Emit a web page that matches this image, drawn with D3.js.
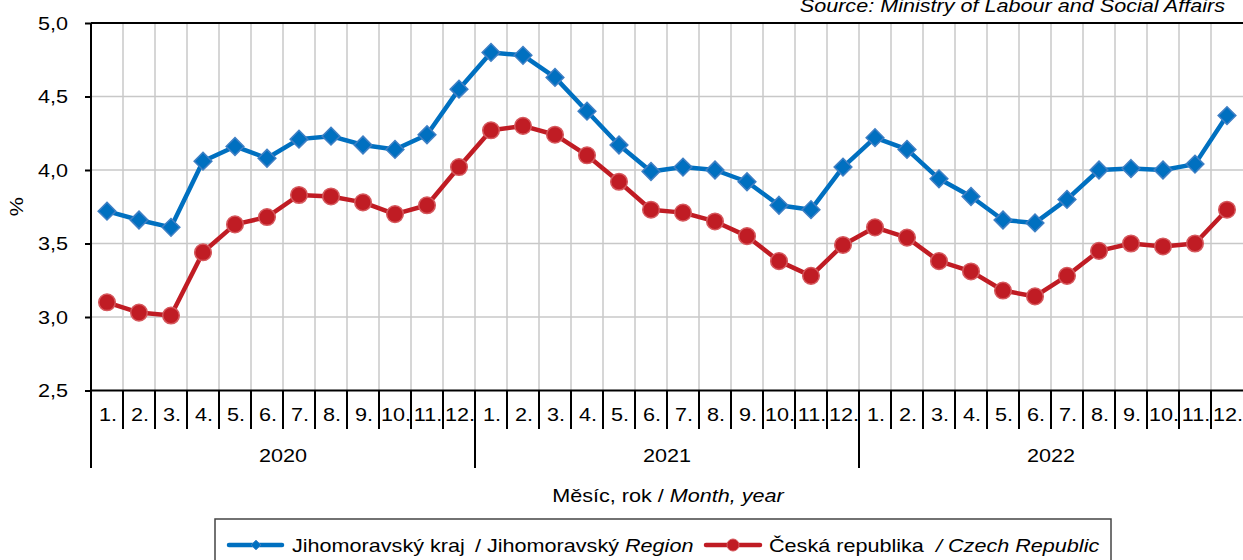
<!DOCTYPE html>
<html>
<head>
<meta charset="utf-8">
<script src="https://cdn.jsdelivr.net/npm/d3@7"></script>
<style>
  body { margin: 0; background: #fff; font-family: "Liberation Sans", Arial, sans-serif; }
  svg text { font-family: "Liberation Sans", Arial, sans-serif; fill: #000; font-size: 18px; }
  .grid line { stroke: #c8c8c8; stroke-width: 1.5; }
</style>
</head>
<body>
<script>
var years = ["2020", "2021", "2022"];
var months = ["1.", "2.", "3.", "4.", "5.", "6.", "7.", "8.", "9.", "10.", "11.", "12."];
var yTicks = [2.5, 3.0, 3.5, 4.0, 4.5, 5.0];

// Jihomoravsky kraj
var jmk = [3.72, 3.66, 3.61, 4.06, 4.16, 4.08, 4.21, 4.23, 4.17, 4.14, 4.24, 4.55,
           4.80, 4.78, 4.63, 4.40, 4.17, 3.99, 4.02, 4.00, 3.92, 3.76, 3.73, 4.02,
           4.22, 4.14, 3.94, 3.82, 3.66, 3.64, 3.80, 4.00, 4.01, 4.00, 4.04, 4.37];
// Ceska republika
var cr = [3.10, 3.03, 3.01, 3.44, 3.63, 3.68, 3.83, 3.82, 3.78, 3.70, 3.76, 4.02,
          4.27, 4.30, 4.24, 4.10, 3.92, 3.73, 3.71, 3.65, 3.55, 3.38, 3.28, 3.49,
          3.61, 3.54, 3.38, 3.31, 3.18, 3.14, 3.28, 3.45, 3.50, 3.48, 3.50, 3.73];

var W = 1243, H = 560;
var margin = {top: 23, left: 91},
    plotW = 1152,
    plotH = 367.5;
var sx = 1.2; // text in the picture is drawn wider than normal

var blue = "#0070c0", blueEdge = "#3f7fc4";
var red = "#c01c24", redEdge = "#d5585d";

var svg = d3.select("body").append("svg").attr("width", W).attr("height", H);

// text helper: parts = [[string, italic?], ...]
function txt(g, px, py, anchor, parts) {
  var t = g.append("text")
    .attr("transform", "translate(" + px + "," + py + ") scale(" + sx + ",1)")
    .attr("text-anchor", anchor);
  parts.forEach(function(p) {
    t.append("tspan").style("font-style", p[1] ? "italic" : "normal").text(p[0]);
  });
  return t;
}

var idx = d3.range(jmk.length);
var x = d3.scaleBand().domain(idx).range([margin.left, margin.left + plotW]).padding(0);
var y = d3.scaleLinear().domain([2.5, 5.0]).range([margin.top + plotH, margin.top]);
var fmt = function(d) { return d3.format(".1f")(d).replace(".", ","); };

// source
txt(svg, 1225, 12, "end", [["Source: Ministry of Labour and Social Affairs", true]]);

// grid
var grid = svg.append("g").attr("class", "grid");
grid.selectAll(".hg").data(yTicks.slice(1, -1)).enter().append("line")
  .attr("x1", margin.left).attr("x2", margin.left + plotW)
  .attr("y1", function(d) { return y(d); }).attr("y2", function(d) { return y(d); });
grid.selectAll(".vg").data(idx.slice(1)).enter().append("line")
  .attr("x1", function(d) { return x(d); }).attr("x2", function(d) { return x(d); })
  .attr("y1", margin.top).attr("y2", margin.top + plotH);

// top border
svg.append("line")
  .attr("x1", margin.left).attr("x2", margin.left + plotW)
  .attr("y1", margin.top).attr("y2", margin.top)
  .attr("stroke", "#000").attr("stroke-width", 2);

// y axis
var yAxis = svg.append("g")
  .attr("transform", "translate(" + margin.left + ",0)")
  .call(d3.axisLeft(y).tickValues(yTicks).tickFormat(fmt).tickSizeOuter(0).tickSize(6));
yAxis.select(".domain").remove();
yAxis.selectAll("line").attr("stroke", "#000").attr("stroke-width", 2);
yAxis.selectAll("text").remove();
yTicks.forEach(function(v) { txt(svg, 68, y(v) + 6.5, "end", [[fmt(v), false]]); });

svg.append("line")
  .attr("x1", margin.left).attr("x2", margin.left)
  .attr("y1", margin.top).attr("y2", 468)
  .attr("stroke", "#000").attr("stroke-width", 2);

svg.append("text")
  .attr("transform", "translate(23," + (margin.top + plotH / 2) + ") rotate(-90) scale(" + sx + ",1)")
  .attr("text-anchor", "middle")
  .text("%");

// x axis
var base = margin.top + plotH;
svg.append("line")
  .attr("x1", margin.left).attr("x2", margin.left + plotW)
  .attr("y1", base).attr("y2", base)
  .attr("stroke", "#000").attr("stroke-width", 2);

svg.selectAll(".mtick").data(idx.slice(1)).enter().append("line")
  .attr("x1", function(d) { return x(d); }).attr("x2", function(d) { return x(d); })
  .attr("y1", base).attr("y2", function(d) { return d % 12 === 0 ? 468 : 429; })
  .attr("stroke", "#000").attr("stroke-width", 2);

idx.forEach(function(d) {
  txt(svg, x(d) + x.bandwidth() / 2 + 1, 421, "middle", [[months[d % 12], false]]);
});
years.forEach(function(d, i) {
  txt(svg, x(i * 12) + x.bandwidth() * 6, 462, "middle", [[d, false]]);
});

txt(svg, 668, 502, "middle", [["Měsíc, rok / ", false], ["Month, year", true]]);

// lines
var line = d3.line()
  .x(function(d, i) { return x(i) + x.bandwidth() / 2; })
  .y(function(d) { return y(d); });

svg.append("path").datum(jmk)
  .attr("d", line).attr("fill", "none")
  .attr("stroke", blue).attr("stroke-width", 4.5).attr("stroke-linejoin", "round");
svg.append("path").datum(cr)
  .attr("d", line).attr("fill", "none")
  .attr("stroke", red).attr("stroke-width", 4.5).attr("stroke-linejoin", "round");

var diamond = d3.symbol().type(d3.symbolDiamond2).size(200);
svg.selectAll(".dj").data(jmk).enter().append("path")
  .attr("d", diamond)
  .attr("transform", function(d, i) { return "translate(" + (x(i) + x.bandwidth() / 2) + "," + y(d) + ")"; })
  .attr("fill", blue).attr("stroke", blueEdge).attr("stroke-width", 1.5);

svg.selectAll(".dc").data(cr).enter().append("circle")
  .attr("cx", function(d, i) { return x(i) + x.bandwidth() / 2; })
  .attr("cy", function(d) { return y(d); })
  .attr("r", 8.3)
  .attr("fill", red).attr("stroke", redEdge).attr("stroke-width", 1.5);

// legend
var lg = svg.append("g");
lg.append("rect")
  .attr("x", 215).attr("y", 519).attr("width", 896).attr("height", 50)
  .attr("fill", "#fff").attr("stroke", "#444").attr("stroke-width", 1.5);

lg.append("line").attr("x1", 229).attr("x2", 282).attr("y1", 545).attr("y2", 545)
  .attr("stroke", blue).attr("stroke-width", 4.5).attr("stroke-linecap", "round");
lg.append("path").attr("d", d3.symbol().type(d3.symbolDiamond2).size(60))
  .attr("transform", "translate(256,545)").attr("fill", blue).attr("stroke", blueEdge);
txt(lg, 292, 552, "start", [["Jihomoravský kraj", false]]);
txt(lg, 475, 552, "start", [["/ Jihomoravský ", false], ["Region", true]]);

lg.append("line").attr("x1", 706).attr("x2", 760).attr("y1", 545).attr("y2", 545)
  .attr("stroke", red).attr("stroke-width", 4.5).attr("stroke-linecap", "round");
lg.append("circle").attr("cx", 733).attr("cy", 545).attr("r", 6)
  .attr("fill", red).attr("stroke", redEdge);
txt(lg, 769, 552, "start", [["Česká republika", false]]);
txt(lg, 936, 552, "start", [["/ Czech Republic", true]]);
</script>
</body>
</html>
